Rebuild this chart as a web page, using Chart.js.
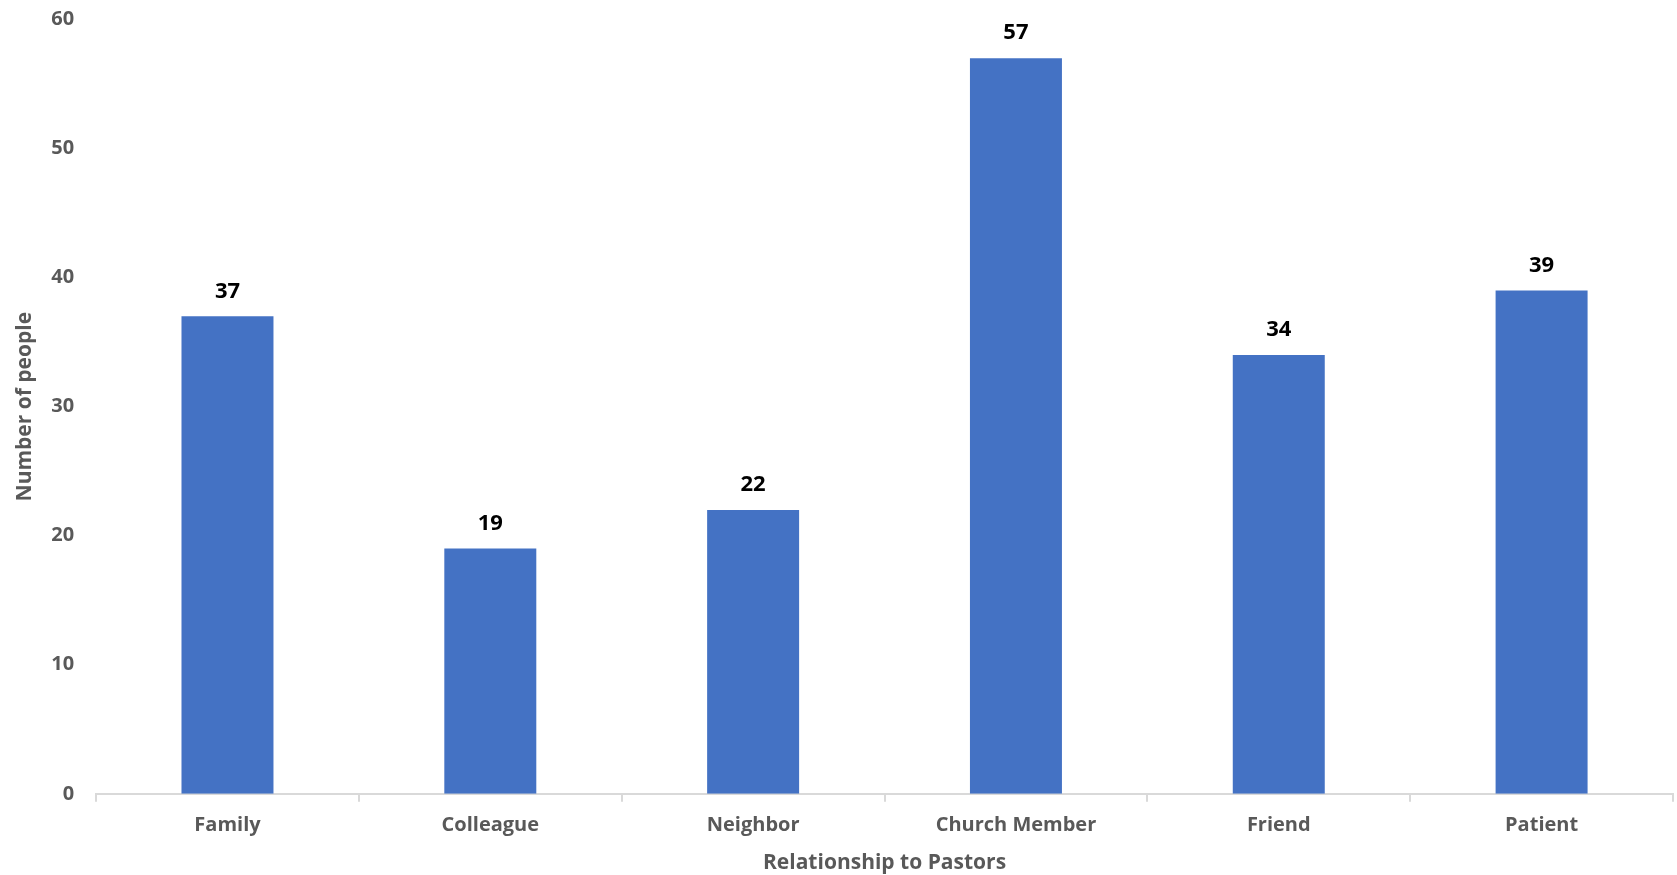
<!DOCTYPE html>
<html>
<head>
<meta charset="utf-8">
<script src="https://cdn.jsdelivr.net/npm/chart.js@4"></script>
<style>
  body { margin: 0; background: #ffffff; }
  #wrap { width: 1677px; height: 875px; position: relative; }
</style>
</head>
<body>
<div id="wrap"><canvas id="chart"></canvas></div>
<script>
// data
const categories = ['Family', 'Colleague', 'Neighbor', 'Church Member', 'Friend', 'Patient'];
const peopleCounts = [37, 19, 22, 57, 34, 39];
const yTicks = [0, 10, 20, 30, 40, 50, 60];

const FONT = '"Open Sans", "Noto Sans", sans-serif';
const GREY = '#595959';

// draws the value above each bar
const barValueLabels = {
    id: 'barValueLabels',
    afterDatasetsDraw(chart) {
        const ctx = chart.ctx;
        const meta = chart.getDatasetMeta(0);
        ctx.save();
        ctx.font = 'bold 22px ' + FONT;
        ctx.fillStyle = '#000000';
        ctx.textAlign = 'center';
        ctx.textBaseline = 'bottom';
        meta.data.forEach((bar, i) => {
            ctx.fillText(String(peopleCounts[i]), bar.x, bar.y - 14);
        });
        ctx.restore();
    }
};

new Chart(document.getElementById('chart'), {
    type: 'bar',
    data: {
        labels: categories,
        datasets: [{
            data: peopleCounts,
            backgroundColor: '#4472C4',
            borderWidth: 0,
            categoryPercentage: 1.0,
            barPercentage: 0.35
        }]
    },
    options: {
        responsive: true,
        maintainAspectRatio: false,
        animation: false,
        layout: { padding: { top: 0, right: 4, left: 12, bottom: -1 } },
        plugins: {
            legend: { display: false },
            tooltip: { enabled: false }
        },
        scales: {
            x: {
                grid: {
                    display: true,
                    drawOnChartArea: false,
                    drawTicks: true,
                    tickLength: 8,
                    color: '#d9d9d9',
                    lineWidth: 2
                },
                border: { color: '#d9d9d9', width: 2 },
                ticks: {
                    color: GREY,
                    font: { family: FONT, size: 20, weight: 'bold' },
                    padding: 11
                },
                title: {
                    display: true,
                    text: 'Relationship to Pastors',
                    color: GREY,
                    font: { family: FONT, size: 21, weight: 'bold' },
                    padding: { top: 3, bottom: 0 }
                }
            },
            y: {
                min: 0,
                max: 60,
                afterBuildTicks(axis) {
                    axis.ticks = yTicks.map(v => ({ value: v }));
                },
                grid: { display: false },
                border: { display: false },
                ticks: {
                    color: GREY,
                    font: { family: FONT, size: 20, weight: 'bold', lineHeight: 0.55 },
                    padding: 14
                },
                title: {
                    display: true,
                    text: 'Number of people',
                    color: GREY,
                    font: { family: FONT, size: 21, weight: 'bold' },
                    padding: { top: 0, bottom: 0 }
                }
            }
        }
    },
    plugins: [barValueLabels]
});
</script>
</body>
</html>
